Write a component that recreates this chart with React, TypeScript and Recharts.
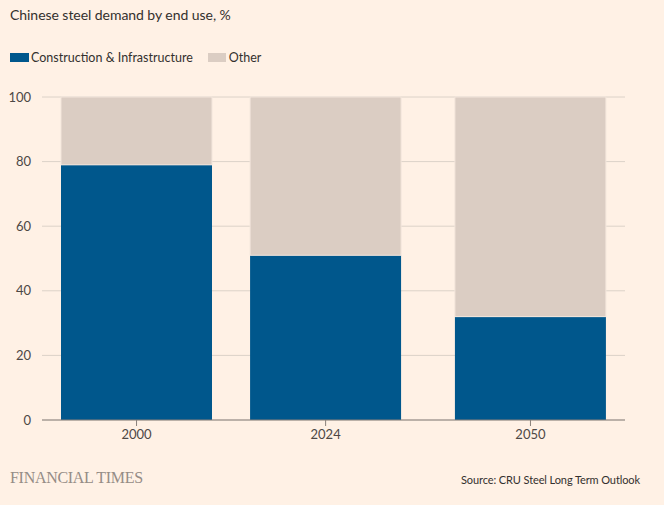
import { BarChart, Bar, XAxis, YAxis, CartesianGrid } from 'recharts';

const years = [2000, 2024, 2050];
const construction = [79, 51, 32];
const other = [21, 49, 68];
const yTicks = [0, 20, 40, 60, 80, 100];

const BLUE = '#00578c';
const BEIGE = '#dbcdc3';
const BG = '#fff1e5';
const FONT = 'Lato, "Open Sans", sans-serif';

const data = years.map((year, i) => ({
  year,
  construction: construction[i],
  other: other[i],
}));

export default function App() {
  return (
    <div
      style={{
        position: 'fixed',
        top: 0,
        left: 0,
        width: 664,
        height: 505,
        background: BG,
        fontFamily: FONT,
        color: '#33302e',
        overflow: 'hidden',
      }}
    >
      {/* Title */}
      <div style={{ position: 'absolute', left: 10, top: 6, fontSize: 14, letterSpacing: -0.05 }}>
        Chinese steel demand by end use, %
      </div>

      {/* Legend */}
      <div style={{ position: 'absolute', left: 10, top: 50, display: 'flex', alignItems: 'center', fontSize: 12.5 }}>
        <div style={{ width: 19, height: 9, background: BLUE, marginRight: 2 }} />
        <span>Construction &amp; Infrastructure</span>
        <div style={{ width: 18, height: 9, background: BEIGE, marginLeft: 15, marginRight: 3 }} />
        <span>Other</span>
      </div>

      <div style={{ position: 'absolute', left: 0, top: 0 }}>
        <BarChart
          width={664}
          height={452}
          data={data}
          margin={{ top: 97, right: 39, bottom: 0, left: 0 }}
        >
          <CartesianGrid vertical={false} stroke="#dcd2c8" />
          <XAxis
            dataKey="year"
            type="number"
            domain={[1988, 2062]}
            ticks={years}
            height={32}
            stroke="#8a817b"
            tickSize={6}
            tickMargin={4}
            tick={{ fontSize: 13, fill: '#4d4845', fontFamily: FONT }}
          />
          <YAxis
            width={42}
            domain={[0, 100]}
            ticks={yTicks}
            axisLine={false}
            tickLine={false}
            tickMargin={5}
            tick={{ fontSize: 13, fill: '#4d4845', fontFamily: FONT }}
          />
          <Bar dataKey="construction" stackId="a" fill={BLUE} barSize={151} isAnimationActive={false} />
          <Bar dataKey="other" stackId="a" fill={BEIGE} barSize={151} stroke="#f3e6dc" strokeWidth={1} isAnimationActive={false} />
        </BarChart>
      </div>

      {/* Footer */}
      <div
        style={{
          position: 'absolute',
          left: 10,
          top: 469,
          fontFamily: '"Liberation Serif", "DejaVu Serif", serif',
          fontSize: 16,
          color: '#958c86',
          letterSpacing: -0.3,
        }}
      >
        FINANCIAL TIMES
      </div>
      <div style={{ position: 'absolute', right: 24, top: 473, fontSize: 11, letterSpacing: -0.1 }}>
        Source: CRU Steel Long Term Outlook
      </div>
    </div>
  );
}
